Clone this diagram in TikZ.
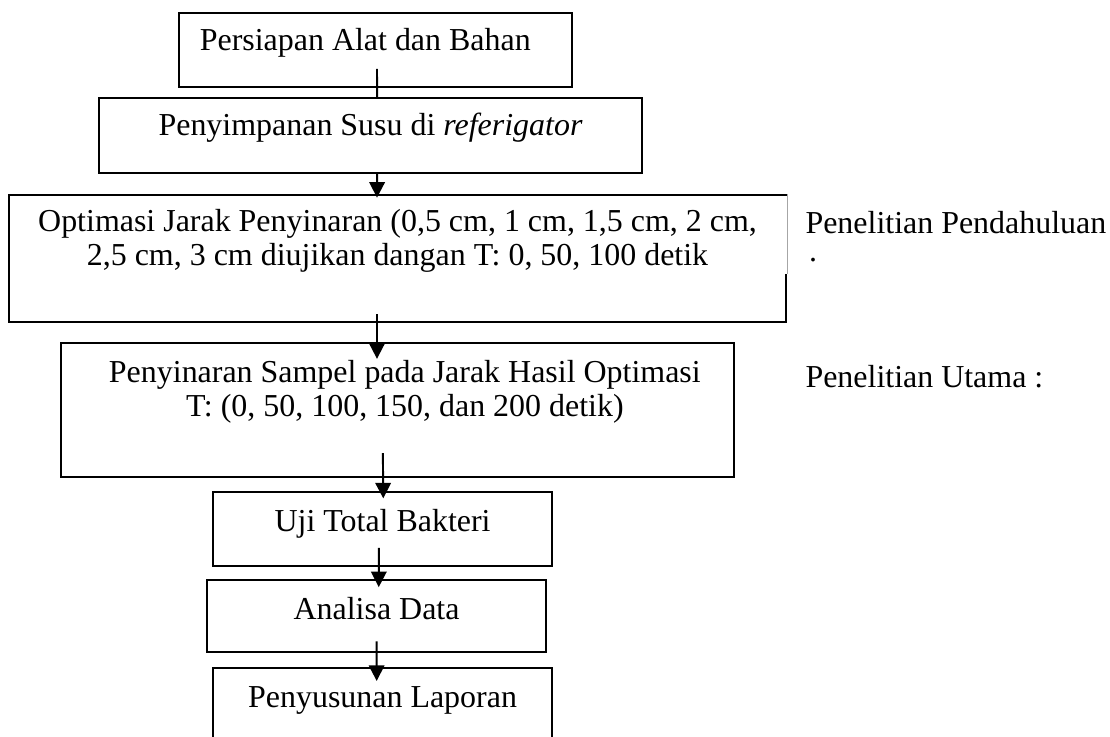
\documentclass[tikz,border=0pt]{standalone}
\usepackage{fontspec}
\setmainfont{Liberation Serif}
\usetikzlibrary{calc,arrows.meta}

\begin{document}
\begin{tikzpicture}[
	kotak/.style={draw, line width=0.75pt, inner sep=0pt},
	teks/.style={anchor=base, inner sep=0pt, align=center, font=\fontsize{12.4pt}{13.2pt}\selectfont},
	teksluar/.style={anchor=base west, inner sep=0pt, font=\fontsize{12.4pt}{13.2pt}\selectfont},
	garis/.style={line width=0.75pt},
	alur/.style={line width=0.75pt, -{Triangle[length=6pt, width=6pt]}}]
			%%%%% START %%%%%
			
			\useasboundingbox (0, 0) rectangle (15.143, 10.041);
			
			\node[kotak, minimum width=5.362cm, minimum height=1.010cm] (persiapan) at (5.123, 9.359) {};
			\node[kotak, minimum width=7.408cm, minimum height=1.023cm] (penyimpanan) at (5.055, 8.193) {};
			\node[kotak, minimum width=10.600cm, minimum height=1.733cm] (optimasi) at (5.423, 6.515) {};
			\node[kotak, minimum width=9.182cm, minimum height=1.829cm] (penyinaran) at (5.423, 4.448) {};
			\node[kotak, minimum width=4.625cm, minimum height=1.010cm] (uji) at (5.219, 2.824) {};
			\node[kotak, minimum width=4.625cm, minimum height=0.982cm] (analisa) at (5.137, 1.637) {};
			\node[kotak, minimum width=4.625cm, minimum height=0.983cm] (laporan) at (5.219, 0.437) {};
			
			% sisi kanan kotak optimasi yang pudar
			\draw[white, line width=1.6pt] ([yshift=-0.03cm]optimasi.north east) -- ([yshift=-1.09cm]optimasi.north east);
			\draw[black!35, line width=0.3pt] (optimasi.north east) -- ([yshift=-1.09cm]optimasi.north east);
			
			\node[teks] (t-persiapan) at ([xshift=-0.14cm, yshift=-0.53cm]persiapan.north) {Persiapan Alat dan Bahan};
			\node[teks] (t-penyimpanan) at ([yshift=-0.53cm]penyimpanan.north) {Penyimpanan Susu di \textit{referigator}};
			\node[teks] (t-optimasi) at ([yshift=-0.98cm]optimasi.north) {Optimasi Jarak Penyinaran (0,5 cm, 1 cm, 1,5 cm, 2 cm,\\2,5 cm, 3 cm diujikan dangan T: 0, 50, 100 detik};
			\node[teks] (t-penyinaran) at ([xshift=0.10cm, yshift=-1.01cm]penyinaran.north) {Penyinaran Sampel pada Jarak Hasil Optimasi\\T: (0, 50, 100, 150, dan 200 detik)};
			\node[teks] (t-uji) at ([yshift=-0.55cm]uji.north) {Uji Total Bakteri};
			\node[teks] (t-analisa) at ([yshift=-0.55cm]analisa.north) {Analisa Data};
			\node[teks] (t-laporan) at ([yshift=-0.55cm]laporan.north) {Penyusunan Laporan};
			
			\node[teksluar] (pendahuluan) at (10.982, 6.862) {Penelitian Pendahuluan};
			\node[teksluar] (titik) at (11.03, 6.47) {.};
			\node[teksluar] (utama) at (10.982, 4.748) {Penelitian Utama :};
			
			\draw[garis] ([xshift=0.02cm, yshift=0.26cm]persiapan.south) -- ([xshift=0.09cm]penyimpanan.north);
			\draw[alur] ([xshift=0.09cm]penyimpanan.south) -- ([xshift=-0.28cm, yshift=-0.05cm]optimasi.north);
			\draw[alur] ([xshift=-0.28cm, yshift=0.12cm]optimasi.south) -- ([xshift=-0.28cm, yshift=-0.23cm]penyinaran.north);
			\draw[alur] ([xshift=-0.20cm, yshift=0.34cm]penyinaran.south) -- ([xshift=0.01cm, yshift=-0.10cm]uji.north);
			\draw[alur] ([xshift=-0.05cm, yshift=0.26cm]uji.south) -- ([xshift=0.03cm, yshift=-0.11cm]analisa.north);
			\draw[alur] ([yshift=0.16cm]analisa.south) -- ([xshift=-0.08cm, yshift=-0.19cm]laporan.north);
			
			%%%%% END %%%%%
\end{tikzpicture}
\end{document}
